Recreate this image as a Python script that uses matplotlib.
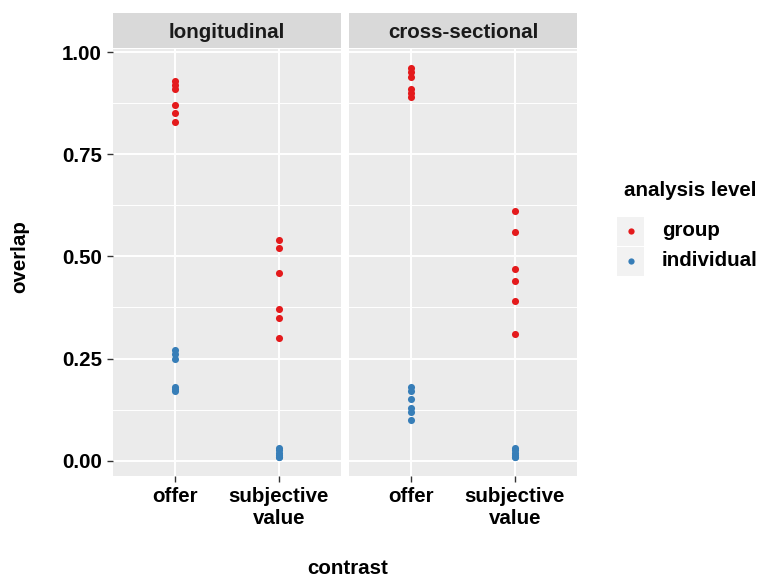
import numpy as np
import matplotlib
matplotlib.use("Agg")
import matplotlib.pyplot as plt
from matplotlib.patches import Rectangle

plt.rcParams['font.family'] = ['Liberation Sans', 'DejaVu Sans']
plt.rcParams['font.weight'] = 'bold'
plt.rcParams['font.size'] = 14.8

# data
panels = ['longitudinal', 'cross-sectional']
contrasts = ['offer', 'subjective\nvalue']

long_offer_group = [0.93, 0.92, 0.91, 0.87, 0.85, 0.83]
long_offer_indiv = [0.27, 0.26, 0.25, 0.18, 0.175, 0.17]
long_sv_group = [0.54, 0.52, 0.46, 0.37, 0.35, 0.30]
long_sv_indiv = [0.03, 0.025, 0.02, 0.015, 0.01, 0.01]

cross_offer_group = [0.96, 0.95, 0.94, 0.91, 0.90, 0.89]
cross_offer_indiv = [0.18, 0.17, 0.15, 0.13, 0.12, 0.10]
cross_sv_group = [0.61, 0.56, 0.47, 0.44, 0.39, 0.31]
cross_sv_indiv = [0.03, 0.025, 0.02, 0.015, 0.01, 0.01]

data = {
    'longitudinal': {'group': [long_offer_group, long_sv_group],
                     'individual': [long_offer_indiv, long_sv_indiv]},
    'cross-sectional': {'group': [cross_offer_group, cross_sv_group],
                        'individual': [cross_offer_indiv, cross_sv_indiv]},
}
levels = ['group', 'individual']
colors = {'group': '#E41A1C', 'individual': '#377EB8'}

W, H = 761, 577
fig = plt.figure(figsize=(W / 100, H / 100), dpi=100)

def fx(px):
    return px / W

def fy(py):
    return 1 - py / H

panel_left = [113, 349]
panel_w = 228
panel_top, panel_bot = 49, 476
strip_top = 13

allv = np.concatenate([np.ravel(v) for d in data.values() for lv in d.values() for v in lv])
rng = allv.max() - allv.min()
ylim = (allv.min() - 0.05 * rng, allv.max() + 0.05 * rng)

for i, name in enumerate(panels):
    ax = fig.add_axes([fx(panel_left[i]), fy(panel_bot), fx(panel_w),
                       (panel_bot - panel_top) / H])
    ax.set_facecolor('#EBEBEB')
    for s in ax.spines.values():
        s.set_visible(False)
    ax.set_xlim(0.4, 2.6)
    ax.set_ylim(*ylim)
    yt = [0, 0.25, 0.5, 0.75, 1.0]
    ax.set_yticks(yt)
    ax.set_yticks([0.125, 0.375, 0.625, 0.875], minor=True)
    ax.set_xticks([1, 2])
    ax.grid(True, which='major', color='white', linewidth=1.4)
    ax.grid(True, which='minor', axis='y', color='white', linewidth=0.7)
    ax.set_axisbelow(True)
    ax.tick_params(which='minor', length=0)
    ax.tick_params(which='major', length=4, color='#333333', width=1, pad=4)
    ax.set_xticklabels(contrasts, fontweight='bold', color='black')
    if i == 0:
        ax.set_yticklabels(['%.2f' % t for t in yt], fontweight='bold', color='black')
    else:
        ax.tick_params(axis='y', which='major', length=0, labelleft=False)
    for lv in levels:
        for j, vals in enumerate(data[name][lv]):
            ax.scatter(np.full(len(vals), j + 1), vals, s=26, color=colors[lv],
                       linewidths=0, zorder=3)
    # strip
    sax = fig.add_axes([fx(panel_left[i]), fy(panel_top - 1), fx(panel_w),
                        (panel_top - 1 - strip_top) / H])
    sax.set_facecolor('#D9D9D9')
    sax.set_xticks([])
    sax.set_yticks([])
    for s in sax.spines.values():
        s.set_visible(False)
    sax.text(0.5, 0.45, name, ha='center', va='center', transform=sax.transAxes,
             fontweight='bold', color='#1A1A1A')

fig.text(fx(20), fy(257), 'overlap', rotation=90, ha='center', va='center',
         fontweight='bold')
fig.text(fx(348), fy(568), 'contrast', ha='center', va='center',
         fontweight='bold')

# legend, laid out like ggplot's
fig.text(fx(624), fy(191), 'analysis level', ha='left', va='center',
         fontweight='bold')
for k, lv in enumerate(levels):
    top = 217 + 30 * k
    fig.add_artist(Rectangle((fx(617), fy(top + 29)), fx(27), 29 / H,
                             transform=fig.transFigure, facecolor='#F2F2F2',
                             edgecolor='none'))
    fig.add_artist(plt.Line2D([fx(630.5)], [fy(top + 14)], marker='o',
                              markersize=4.5, markerfacecolor=colors[lv],
                              markeredgewidth=0, linestyle='',
                              transform=fig.transFigure))
    fig.text(fx(662), fy(top + 14), lv, ha='left', va='center', fontweight='bold')

fig.savefig('out.png', dpi=100)
